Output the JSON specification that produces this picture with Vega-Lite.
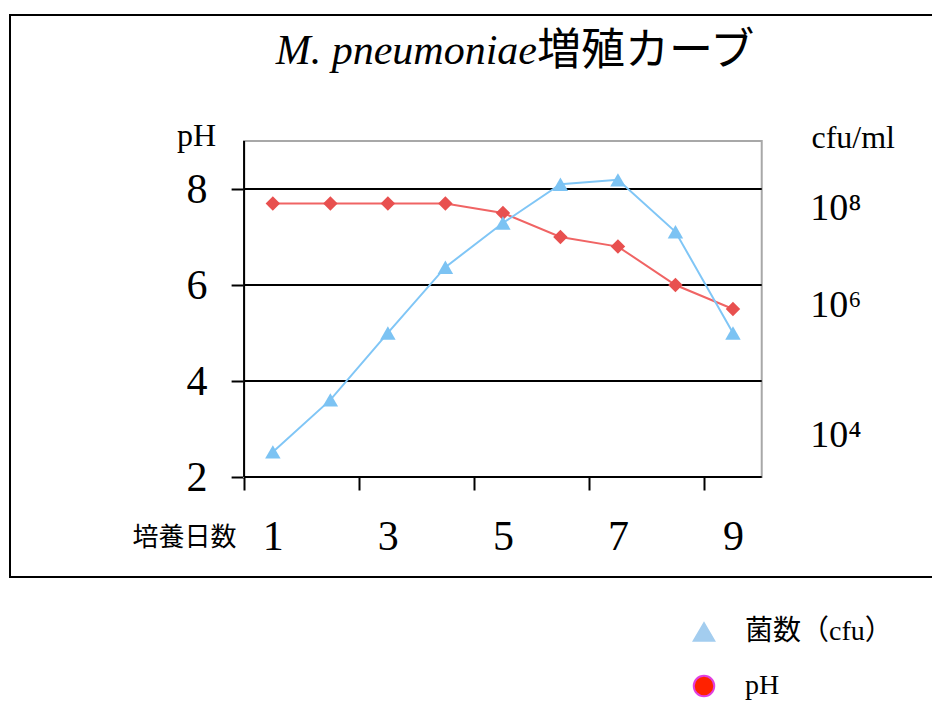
{
  "$schema": "https://vega.github.io/schema/vega-lite/v6.json",
  "width": 926,
  "height": 562,
  "autosize": "none",
  "padding": {"left": 10, "top": 15, "right": 0, "bottom": 127},
  "background": "white",
  "config": {
    "view": {"stroke": "black", "strokeWidth": 2},
    "axis": {"grid": false}
  },
  "title": {
    "text": "M. pneumoniae",
    "subtitle": "増殖カーブ",
    "font": "Liberation Serif",
    "fontStyle": "italic",
    "fontWeight": "normal",
    "fontSize": 42,
    "color": "black",
    "subtitleFont": "Noto Sans CJK JP",
    "subtitleFontSize": 44,
    "subtitleFontWeight": "normal",
    "subtitleColor": "black",
    "subtitlePadding": -43,
    "anchor": "middle",
    "dx": 64,
    "offset": -60,
    "encode": {
      "title": {"update": {"align": {"value": "right"}}},
      "subtitle": {"update": {"align": {"value": "left"}}}
    }
  },
  "data": {
    "values": [
      {"day": 1, "measure": "pH", "value": 7.7},
      {"day": 2, "measure": "pH", "value": 7.7},
      {"day": 3, "measure": "pH", "value": 7.7},
      {"day": 4, "measure": "pH", "value": 7.7},
      {"day": 5, "measure": "pH", "value": 7.5},
      {"day": 6, "measure": "pH", "value": 7.0},
      {"day": 7, "measure": "pH", "value": 6.8},
      {"day": 8, "measure": "pH", "value": 6.0},
      {"day": 9, "measure": "pH", "value": 5.5},
      {"day": 1, "measure": "菌数（cfu）", "value": 3.74},
      {"day": 2, "measure": "菌数（cfu）", "value": 4.54},
      {"day": 3, "measure": "菌数（cfu）", "value": 5.57},
      {"day": 4, "measure": "菌数（cfu）", "value": 6.78},
      {"day": 5, "measure": "菌数（cfu）", "value": 7.69},
      {"day": 6, "measure": "菌数（cfu）", "value": 8.49},
      {"day": 7, "measure": "菌数（cfu）", "value": 8.58},
      {"day": 8, "measure": "菌数（cfu）", "value": 7.51},
      {"day": 9, "measure": "菌数（cfu）", "value": 5.57}
    ]
  },
  "layer": [
    {
      "layer": [
        {
          "data": {"values": [{}]},
          "mark": {"type": "rect", "filled": false, "stroke": "#a8a8a8", "strokeWidth": 2},
          "encoding": {
            "x": {
              "datum": 0.5, "type": "quantitative",
              "scale": {"domain": [-3.57, 12.53], "nice": false, "zero": false},
              "axis": {
                "title": "培養日数",
                "titleFont": "Liberation Serif, Noto Sans CJK JP",
                "titleFontSize": 26,
                "titleFontWeight": "normal",
                "titleColor": "black",
                "titleX": 174,
                "titleY": 60,
                "titleAlign": "center",
                "titleBaseline": "middle",
                "titleAngle": 0,
                "values": [0.5, 2.5, 4.5, 6.5, 8.5],
                "labelExpr": "format(datum.value + 0.5, 'd')",
                "labelOffset": 28.75,
                "labelFont": "Liberation Serif",
                "labelFontSize": 42,
                "labelColor": "black",
                "labelPadding": 26,
                "labelFlush": false,
                "labelOverlap": false,
                "domain": false,
                "ticks": true,
                "tickSize": 13,
                "tickWidth": 2,
                "tickColor": "black",
                "offset": -100
              }
            },
            "x2": {"datum": 9.5},
            "y": {
              "datum": 2, "type": "quantitative",
              "scale": {"domain": [-0.0833, 11.625], "nice": false, "zero": false},
              "axis": {
                "title": "pH",
                "titleFont": "Liberation Serif",
                "titleFontSize": 32,
                "titleFontWeight": "normal",
                "titleColor": "black",
                "titleX": -48,
                "titleY": 120,
                "titleAngle": 0,
                "titleAlign": "center",
                "titleBaseline": "middle",
                "values": [2, 4, 6, 8],
                "labelFont": "Liberation Serif",
                "labelFontSize": 42,
                "labelColor": "black",
                "labelPadding": 24,
                "labelBaseline": "middle",
                "labelFlush": false,
                "labelOverlap": false,
                "domain": false,
                "tickSize": 13,
                "tickWidth": 2,
                "tickColor": "black",
                "offset": -234.1
              }
            },
            "y2": {"datum": 9}
          }
        },
        {
          "data": {"values": [{"grid": 4}, {"grid": 6}, {"grid": 8}]},
          "mark": {"type": "rule", "color": "black", "strokeWidth": 2},
          "encoding": {
            "x": {"datum": 0.5, "type": "quantitative"},
            "x2": {"datum": 9.5},
            "y": {"field": "grid", "type": "quantitative"}
          }
        },
        {
          "data": {"values": [{}]},
          "mark": {"type": "rule", "color": "black", "strokeWidth": 2},
          "encoding": {
            "x": {"datum": 0.5, "type": "quantitative"},
            "y": {"datum": 2, "type": "quantitative"},
            "y2": {"datum": 9}
          }
        },
        {
          "data": {"values": [{}]},
          "mark": {"type": "rule", "color": "black", "strokeWidth": 2},
          "encoding": {
            "x": {"datum": 0.5, "type": "quantitative"},
            "x2": {"datum": 9.5},
            "y": {"datum": 2, "type": "quantitative"}
          }
        },
        {
          "transform": [{"filter": "datum.measure === 'pH'"}],
          "mark": {"type": "line", "color": "#f06464", "strokeWidth": 2},
          "encoding": {
            "x": {"field": "day", "type": "quantitative"},
            "y": {"field": "value", "type": "quantitative"}
          }
        },
        {
          "transform": [{"filter": "datum.measure === 'pH'"}],
          "mark": {"type": "point", "shape": "diamond", "filled": true, "size": 210, "color": "#e8504f", "opacity": 1},
          "encoding": {
            "x": {"field": "day", "type": "quantitative"},
            "y": {"field": "value", "type": "quantitative"}
          }
        },
        {
          "mark": {"type": "point", "filled": true, "opacity": 0},
          "encoding": {
            "x": {"field": "day", "type": "quantitative"},
            "y": {"field": "value", "type": "quantitative"},
            "fill": {
              "field": "measure", "type": "nominal",
              "scale": {"domain": ["菌数（cfu）", "pH"], "range": ["#a3cdef", "#ff2200"]},
              "legend": {
                "title": null,
                "orient": "none",
                "legendX": 680,
                "legendY": 603,
                "direction": "vertical",
                "padding": 0,
                "rowPadding": 25,
                "symbolSize": 420,
                "symbolStrokeWidth": 2,
                "symbolOpacity": 1,
                "labelOffset": 27,
                "labelFont": "Liberation Serif, Noto Sans CJK JP",
                "labelFontSize": 28,
                "labelColor": "black",
                "labelLimit": 400,
                "encode": {
                  "symbols": {
                    "update": {
                      "fill": {"signal": "datum.value === 'pH' ? '#ff2200' : '#a3cdef'"},
                      "stroke": {"signal": "datum.value === 'pH' ? '#e040e0' : '#a3cdef'"},
                      "opacity": {"value": 1},
                      "fillOpacity": {"value": 1},
                      "strokeOpacity": {"value": 1}
                    }
                  }
                }
              }
            },
            "stroke": {
              "field": "measure", "type": "nominal",
              "scale": {"domain": ["菌数（cfu）", "pH"], "range": ["#a3cdef", "#e040e0"]}
            },
            "shape": {
              "field": "measure", "type": "nominal",
              "scale": {"domain": ["菌数（cfu）", "pH"], "range": ["triangle-up", "circle"]}
            }
          }
        }
      ]
    },
    {
      "transform": [{"filter": "datum.measure === '菌数（cfu）'"}],
      "encoding": {
        "x": {"field": "day", "type": "quantitative"},
        "y": {
          "field": "value", "type": "quantitative",
          "scale": {"domain": [1.815, 4, 6, 8, 11.98], "range": [562, 420, 290, 193, 0], "nice": false, "zero": false},
          "axis": {
            "orient": "right",
            "title": "cfu/ml",
            "titleFont": "Liberation Serif",
            "titleFontSize": 32,
            "titleFontWeight": "normal",
            "titleColor": "black",
            "titleX": 91,
            "titleY": 122,
            "titleAngle": 0,
            "titleAlign": "center",
            "titleBaseline": "middle",
            "values": [4, 6, 8],
            "labelExpr": "'10' + (datum.value == 8 ? '⁸' : datum.value == 6 ? '⁶' : '⁴')",
            "labelFont": "Liberation Serif",
            "labelFontSize": 38,
            "labelColor": "black",
            "labelPadding": 48,
            "labelBaseline": "middle",
            "labelFlush": false,
            "labelOverlap": false,
            "domain": false,
            "ticks": false,
            "tickSize": 0,
            "offset": -174.3
          }
        }
      },
      "layer": [
        {"mark": {"type": "line", "color": "#80c6f6", "strokeWidth": 2}},
        {"mark": {"type": "point", "shape": "triangle-up", "filled": true, "size": 240, "color": "#7cc3f3", "opacity": 1}}
      ]
    }
  ],
  "resolve": {"scale": {"y": "independent"}}
}
